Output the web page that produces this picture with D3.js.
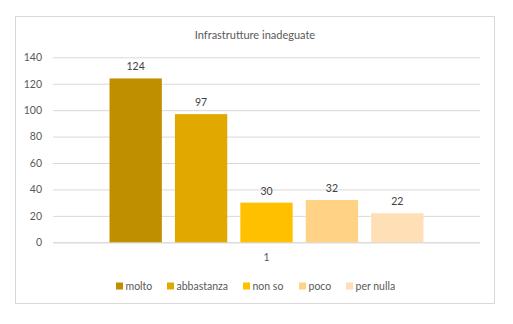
<!DOCTYPE html>
<html>
<head>
<meta charset="utf-8">
<script src="https://cdn.jsdelivr.net/npm/d3@7"></script>
<style>
  html, body { margin: 0; padding: 0; background: #fff; }
  svg { display: block; font-family: Lato, "Open Sans", sans-serif; }
</style>
</head>
<body>
<svg id="chart" width="513" height="324"></svg>
<script>
// Survey answers for a single question, one bar per answer
const categories = ["1"];
const seriesNames = ["molto", "abbastanza", "non so", "poco", "per nulla"];
const seriesValues = [124, 97, 30, 32, 22];
const seriesColors = ["#BF8F00", "#E1A900", "#FFC000", "#FFD285", "#FFDFB5"];
const yTicks = [0, 20, 40, 60, 80, 100, 120, 140];
const chartTitle = "Infrastrutture inadeguate";

const svg = d3.select("#chart");
const textColor = "#595959";
const gridColor = "#D9D9D9";

// outer frame
svg.append("rect")
  .attr("x", 15.5).attr("y", 16.5)
  .attr("width", 479).attr("height", 287)
  .attr("fill", "#fff").attr("stroke", gridColor).attr("stroke-width", 1);

svg.append("text")
  .attr("x", 255).attr("y", 38.5)
  .attr("text-anchor", "middle")
  .attr("font-size", 11)
  .attr("fill", textColor)
  .text(chartTitle);

const plot = { left: 53, right: 480, top: 57.3, bottom: 242.3 };

const y = d3.scaleLinear().domain([0, 140]).range([plot.bottom, plot.top]);

const x0 = d3.scaleBand().domain(categories)
  .range([plot.left, plot.right]).paddingInner(0).paddingOuter(0.18);
const x1 = d3.scaleBand().domain(seriesNames)
  .range([0, x0.bandwidth()]).paddingInner(0.2).paddingOuter(0);

// gridlines and y labels
const yAxis = d3.axisLeft(y).tickValues(yTicks).tickSize(-(plot.right - plot.left)).tickPadding(11);
const gy = svg.append("g").attr("transform", `translate(${plot.left},0)`).call(yAxis);
gy.select(".domain").remove();
gy.selectAll(".tick line").attr("stroke", gridColor).attr("stroke-width", 1);
gy.selectAll(".tick text").attr("fill", textColor).attr("font-size", 10.5)
  .attr("font-family", "Lato, 'Open Sans', sans-serif");

// category axis
const xAxis = d3.axisBottom(x0).tickSize(0).tickPadding(11);
const gx = svg.append("g").attr("transform", `translate(0,${plot.bottom})`).call(xAxis);
gx.select(".domain").attr("d", `M${plot.left},0.5H${plot.right}`).attr("stroke", gridColor);
gx.selectAll(".tick text").attr("fill", textColor).attr("font-size", 10.5)
  .attr("font-family", "Lato, 'Open Sans', sans-serif");

const data = seriesNames.map((name, i) => ({ name, value: seriesValues[i], color: seriesColors[i] }));

const group = svg.append("g").attr("transform", `translate(${x0(categories[0])},0)`);

group.selectAll("rect.bar").data(data).join("rect")
  .attr("class", "bar")
  .attr("x", d => x1(d.name))
  .attr("y", d => y(d.value))
  .attr("width", x1.bandwidth())
  .attr("height", d => y(0) - y(d.value))
  .attr("fill", d => d.color);

group.selectAll("text.val").data(data).join("text")
  .attr("class", "val")
  .attr("x", d => x1(d.name) + x1.bandwidth() / 2)
  .attr("y", d => y(d.value) - 8)
  .attr("text-anchor", "middle")
  .attr("font-size", 10.5)
  .attr("fill", "#404040")
  .text(d => d.value);

// legend
const legendX = [116, 167, 243, 299, 346];
const legend = svg.append("g").attr("transform", "translate(0,286)");
const items = legend.selectAll("g").data(data).join("g")
  .attr("transform", (d, i) => `translate(${legendX[i]},0)`);
items.append("rect").attr("x", 0).attr("y", -3.5).attr("width", 7).attr("height", 7)
  .attr("fill", d => d.color);
items.append("text").attr("x", 9.5).attr("y", 3.7)
  .attr("font-size", 10.5).attr("fill", textColor)
  .text(d => d.name);
</script>
</body>
</html>
